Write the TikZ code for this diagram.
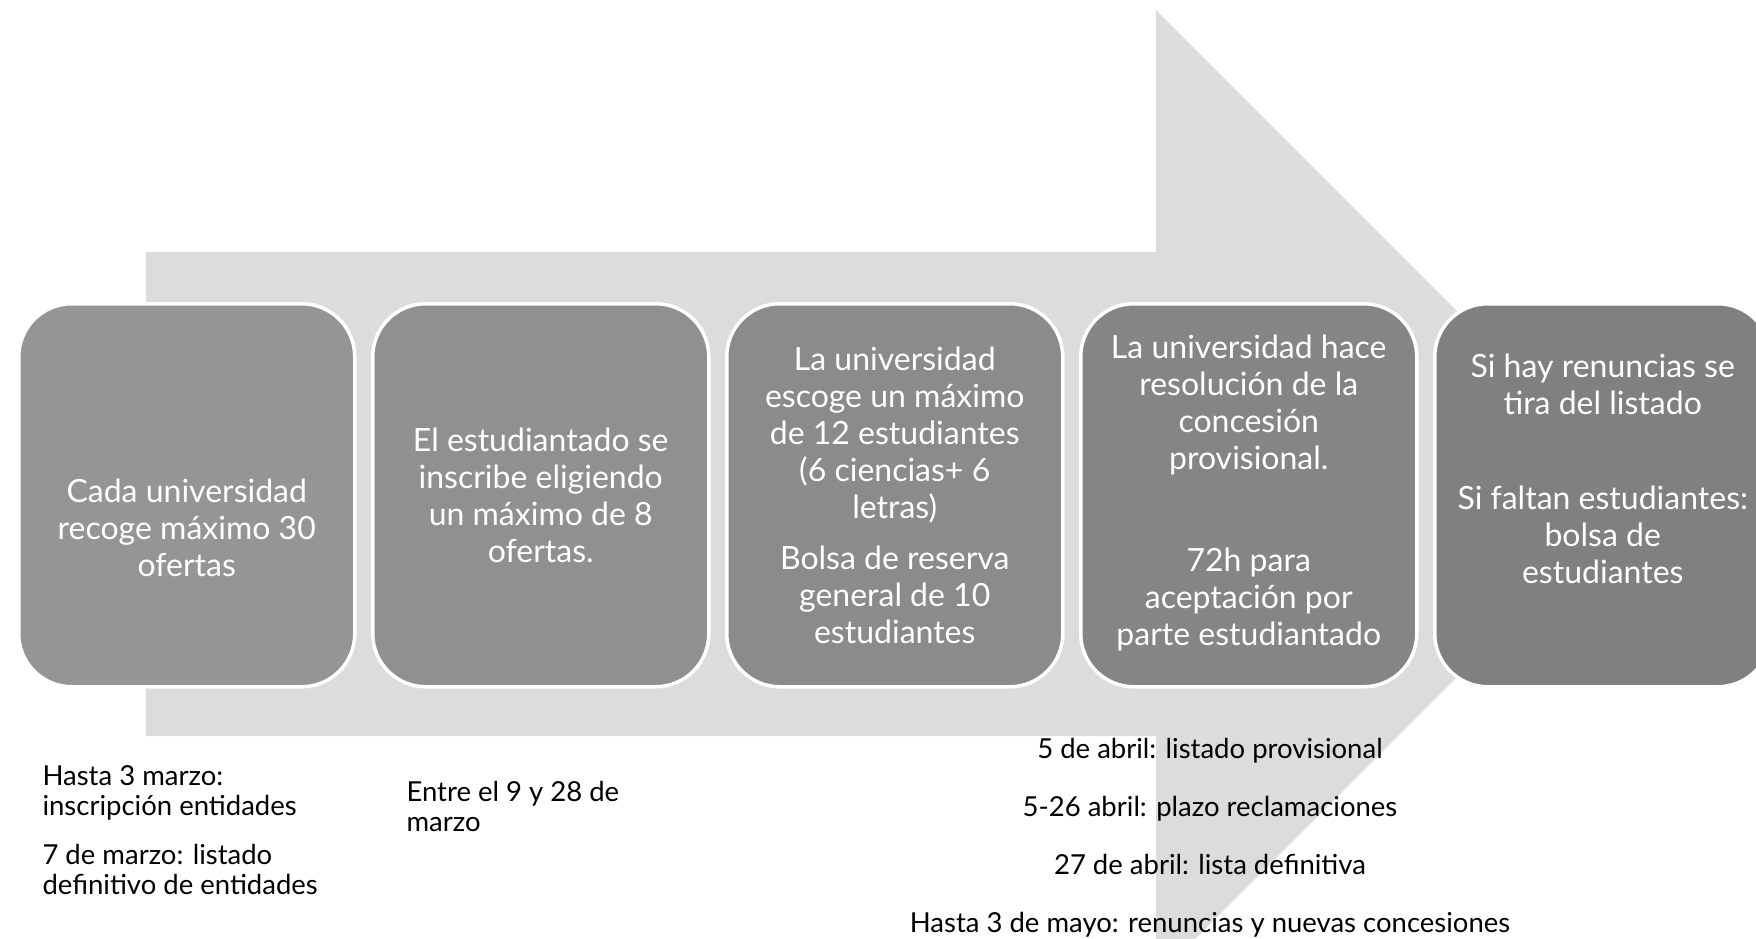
\documentclass[tikz,border=0pt]{standalone}
\usepackage{fontspec}
\setmainfont{Lato}
\usepackage{tikz}

\definecolor{arrowgray}{HTML}{DCDCDC}
\definecolor{stageone}{HTML}{959595}
\definecolor{stagetwo}{HTML}{909090}
\definecolor{stagethree}{HTML}{8B8B8B}
\definecolor{stagefour}{HTML}{858585}
\definecolor{stagefive}{HTML}{808080}

\begin{document}
\begin{tikzpicture}[x=1pt,y=-1pt,
    stage/.style={draw=white,line width=3.5pt,rounded corners=53pt,minimum width=336pt,minimum height=383pt,inner sep=0pt,anchor=north west},
    stagetext/.style={text=white,align=center,font=\fontsize{32}{37}\selectfont},
    datetext/.style={align=left,font=\fontsize{27.5}{30}\selectfont}]
    \useasboundingbox (0,0) rectangle (1756,939);
    \clip (0,0) rectangle (1756,939);

    \fill[arrowgray] (146,252) -- (1156,252) -- (1156,10) -- (1640,494) -- (1156,978) -- (1156,736) -- (146,736) -- cycle;

    \node[stage,fill=stageone] (b1) at (17,302) {};
    \node[stage,fill=stagetwo] (b2) at (371,302) {};
    \node[stage,fill=stagethree] (b3) at (725,302) {};
    \node[stage,fill=stagefour] (b4) at (1079,302) {};
    \node[stage,fill=stagefive] (b5) at (1433,302) {};

    \node[stagetext] (t1) at ([yshift=-33pt]b1.center) {Cada universidad\\recoge máximo 30\\ofertas};
    \node[stagetext] (t2) at (b2.center) {El estudiantado se\\inscribe eligiendo\\un máximo de 8\\ofertas.};
    \node[stagetext] (t3) at (b3.center) {La universidad\\escoge un máximo\\de 12 estudiantes\\(6 ciencias+ 6\\letras)\\[14pt]Bolsa de reserva\\general de 10\\estudiantes};
    \node[stagetext] (t4) at ([yshift=2pt]b4.center) {La universidad hace\\resolución de la\\concesión\\provisional.\\[65pt]72h para\\aceptación por\\parte estudiantado};
    \node[stagetext] (t5) at ([yshift=26pt]b5.center) {Si hay renuncias se\\tira del listado\\[58pt]Si faltan estudiantes:\\bolsa de\\estudiantes};

    \node[datetext,anchor=west] (d1) at (39,830) {Hasta 3 marzo:\\inscripción entidades\\[19pt]7 de marzo: listado\\definitivo de entidades};
    \node[datetext,anchor=west] (d2) at (403,806) {Entre el 9 y 28 de\\marzo};
    \node[datetext,align=center] (d3) at (1210,838) {5 de abril: listado provisional\\[28pt]5-26 abril: plazo reclamaciones\\[28pt]27 de abril: lista definitiva\\[28pt]Hasta 3 de mayo: renuncias y nuevas concesiones};
\end{tikzpicture}
\end{document}
